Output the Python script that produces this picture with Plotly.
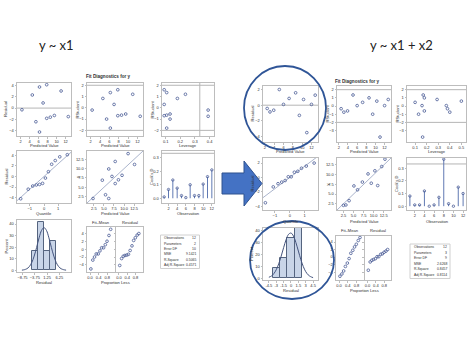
import plotly.graph_objects as go

W, H = 474, 355

# ---------------- model 1 : y ~ x1 ----------------
obs = [1, 2, 3, 4, 5, 6, 7, 8, 9, 10, 11, 12]
m1_pred = [2.3, 4.6, 5.4, 6.2, 6.2, 7.0, 7.8, 7.8, 8.6, 9.5, 11.0, 12.6]
m1_resid = [-0.3, 2.3, -2.4, 3.7, -4.2, 0.9, 4.1, -1.8, -1.6, -1.3, 3.0, -1.5]
m1_rstudent = [-0.2, 0.83, -1.0, 1.35, -1.8, 0.3, 1.6, -0.7, -0.65, -0.55, 1.2, -0.75]
m1_leverage = [0.39, 0.18, 0.13, 0.107, 0.107, 0.09, 0.09, 0.09, 0.107, 0.13, 0.235, 0.39]
m1_y = [2.0, 6.9, 3.0, 9.9, 2.0, 7.9, 11.9, 6.0, 7.0, 8.2, 14.0, 11.1]
m1_cooksd = [0.01, 0.065, 0.135, 0.075, 0.02, 0.005, 0.1, 0.02, 0.02, 0.105, 0.16, 0.21]
m1_quantile = [-1.64, -1.11, -0.79, -0.54, -0.31, -0.10, 0.10, 0.31, 0.54, 0.79, 1.11, 1.64]
m1_resid_sorted = [-4.2, -2.4, -1.8, -1.6, -1.5, -1.3, -0.3, 0.9, 2.3, 3.0, 3.7, 4.1]
m1_fitmean_sorted = [-5.1, -2.8, -2.0, -1.2, -1.2, -0.4, 0.4, 0.4, 1.2, 2.1, 3.6, 5.2]
m1_qq_sd = 2.4
m1_hist_mid = [-3.75, -1.25, 1.25, 3.75]
m1_hist_pct = [16.7, 41.7, 16.7, 25.0]
m1_hist_width = 2.5
m1_curve_x = [-9, -8, -7, -6, -5, -4, -3, -2, -1, 0, 1, 2, 3, 4, 5, 6, 7, 8, 9]
m1_curve_pct = [0.1, 0.5, 1.3, 3.1, 6.6, 12.3, 19.8, 28.1, 34.5, 36.9, 34.5, 28.1, 19.8,
                12.3, 6.6, 3.1, 1.3, 0.5, 0.1]
m1_stat_values = ["12", "2", "10", "9.1421", "0.5065", "0.4571"]

# ---------------- model 2 : y ~ x1 + x2 ----------------
m2_pred = [2.5, 3.1, 3.9, 5.1, 6.0, 7.2, 8.6, 9.4, 10.3, 11.0, 12.0, 12.8]
m2_resid = [-0.42, -0.86, -0.64, 2.0, 0.1, 0.86, 1.58, -1.3, 0.73, -3.5, 0.1, 1.28]
m2_rstudent = [-0.33, -0.75, -0.6, 1.35, 0.05, 0.45, 1.0, -1.0, 0.6, -3.8, 0.05, 0.8]
m2_leverage = [0.38, 0.40, 0.18, 0.17, 0.16, 0.10, 0.18, 0.13, 0.50, 0.165, 0.37, 0.29]
m2_y = [2.1, 2.2, 3.3, 7.1, 6.1, 8.1, 10.2, 7.8, 11.0, 7.2, 12.1, 14.0]
m2_cooksd = [0.08, 0.01, 0.01, 0.12, 0.0, 0.01, 0.07, 0.37, 0.02, 0.0, 0.15, 0.10]
m2_quantile = [-1.64, -1.11, -0.79, -0.54, -0.31, -0.10, 0.10, 0.31, 0.54, 0.79, 1.11, 1.64]
m2_resid_sorted = [-3.5, -1.3, -0.86, -0.64, -0.42, 0.1, 0.1, 0.73, 0.86, 1.28, 1.58, 2.0]
m2_fitmean_sorted = [-5.1, -4.5, -3.7, -2.5, -1.6, -0.4, 1.0, 1.8, 2.7, 3.4, 4.4, 5.2]
m2_qq_sd = 1.55
m2_hist_mid = [-3.0, -1.5, 0.0, 1.5]
m2_hist_pct = [8.3, 16.7, 33.3, 41.7]
m2_hist_width = 1.5
m2_curve_x = [-4.5, -4, -3.5, -3, -2.5, -2, -1.5, -1, -0.5, 0, 0.5, 1, 1.5, 2, 2.5, 3, 3.5, 4, 4.5]
m2_curve_pct = [0.8, 1.8, 3.8, 7.1, 12.0, 18.4, 25.6, 32.2, 36.7, 37.8, 35.3, 29.8, 22.7,
                15.7, 9.8, 5.5, 2.8, 1.3, 0.5]
m2_stat_values = ["12", "3", "9", "2.6268", "0.8457", "0.8114"]

prop_less = [0.04, 0.13, 0.21, 0.29, 0.38, 0.46, 0.54, 0.63, 0.71, 0.79, 0.88, 0.96]
stat_labels = ["Observations", "Parameters", "Error DF", "MSE", "R-Square", "Adj R-Square"]

# ---------------- styling ----------------
FONT = "Liberation Sans, Arial, sans-serif"
FRAME = "#bdbdbd"
REF = "#b5b5b5"
MARK = "#4a5c96"
TXT = "#303030"
TICKF = dict(family=FONT, size=4.0, color=TXT)

fig = go.Figure()
shapes = []
annotations = []
counter = [0]


def px_x(p):
    return p / W


def px_y(p):
    return 1 - p / H


def panel(fx0, fx1, fy0, fy1, xr, yr, xt, yt, xfmt="", yfmt="", xtext=None, ytext=None,
          showx=True, showy=True):
    counter[0] += 1
    i = counter[0]
    s = "" if i == 1 else str(i)
    common = dict(showgrid=False, zeroline=False, showline=True, mirror=True, linecolor=FRAME,
                  linewidth=1, ticks="outside", ticklen=1.5, tickcolor=FRAME, tickfont=TICKF,
                  fixedrange=True, tickwidth=1, tickangle=0)
    xa = dict(common, domain=[px_x(fx0), px_x(fx1)], anchor="y" + s, range=xr, tickvals=xt,
              tickformat=xfmt, showticklabels=showx)
    ya = dict(common, domain=[px_y(fy1), px_y(fy0)], anchor="x" + s, range=yr, tickvals=yt,
              tickformat=yfmt, showticklabels=showy)
    if xtext is not None:
        xa["ticktext"] = xtext
    if ytext is not None:
        ya["ticktext"] = ytext
    fig.update_layout(**{"xaxis" + s: xa, "yaxis" + s: ya})
    return "x" + s, "y" + s


def pts(xa, ya, x, y, size=2.7):
    fig.add_trace(go.Scatter(x=x, y=y, mode="markers", xaxis=xa, yaxis=ya, showlegend=False,
                             marker=dict(symbol="circle-open", size=size, color=MARK,
                                         line=dict(width=0.8, color=MARK)),
                             hoverinfo="skip"))


def line(xa, ya, x, y, color=REF, width=1):
    fig.add_trace(go.Scatter(x=x, y=y, mode="lines", xaxis=xa, yaxis=ya, showlegend=False,
                             line=dict(color=color, width=width), hoverinfo="skip"))


def hline(xa, ya, v):
    shapes.append(dict(type="line", xref=xa + " domain", yref=ya, x0=0, x1=1, y0=v, y1=v,
                       line=dict(color=REF, width=1), layer="below"))


def vline(xa, ya, v):
    shapes.append(dict(type="line", xref=xa, yref=ya + " domain", x0=v, x1=v, y0=0, y1=1,
                       line=dict(color=REF, width=1), layer="below"))


def text(x, y, t, size=4.1, angle=0, bold=False, anchor="center", color=TXT, family=FONT):
    annotations.append(dict(x=px_x(x), y=px_y(y), xref="paper", yref="paper", text=t,
                            showarrow=False, textangle=angle, xanchor=anchor, yanchor="middle",
                            font=dict(family=family, size=size, color=color)))


def cook(xa, ya, vals):
    fig.add_trace(go.Scatter(x=obs, y=vals, mode="markers", xaxis=xa, yaxis=ya, showlegend=False,
                             marker=dict(symbol="circle-open", size=2.4, color=MARK,
                                         line=dict(width=0.8, color=MARK)),
                             error_y=dict(type="data", symmetric=False, array=[0] * len(vals),
                                          arrayminus=vals, width=0, thickness=1,
                                          color="#6079b3"),
                             hoverinfo="skip"))


def hist(xa, ya, mids, pct, bw, cx, cy):
    fig.add_trace(go.Bar(x=mids, y=pct, width=bw, xaxis=xa, yaxis=ya, showlegend=False,
                         marker=dict(color="#c9d5e8", line=dict(color="#55647f", width=1)),
                         hoverinfo="skip"))
    fig.add_trace(go.Scatter(x=cx, y=cy, mode="lines", xaxis=xa, yaxis=ya, showlegend=False,
                             line=dict(color="#44547e", width=1, shape="spline"),
                             hoverinfo="skip"))


def stats_box(x0, x1, y0, y1, row_y, values):
    shapes.append(dict(type="rect", xref="paper", yref="paper", x0=px_x(x0), x1=px_x(x1),
                       y0=px_y(y0), y1=px_y(y1), line=dict(color="#d0d0d0", width=1)))
    for lab, val, ry in zip(stat_labels, values, row_y):
        text(x0 + 1.5, ry, lab, size=3.4, anchor="left")
        text(x1 - 1.5, ry, val, size=3.4, anchor="right")


# =============== LEFT GROUP (y ~ x1) ===============
text(56, 45, "y ~ x1", size=13, family="Lato, Open Sans, sans-serif", color="#222")
text(108, 77, "<b>Fit Diagnostics for y</b>", size=4.6)

pv_ticks = [2, 4, 6, 8, 10, 12]
# row 1
a = panel(17, 71, 83, 136, [1.2, 13.2], [-4.9, 4.4], pv_ticks, [-4, -2, 0, 2, 4])
hline(*a, 0)
pts(*a, m1_pred, m1_resid)
text(5.5, 109.5, "Residual", angle=-90)
text(44, 145.5, "Predicted Value")

a = panel(87, 143, 83, 136, [1.2, 13.2], [-2.5, 2.2], pv_ticks, [-2, -1, 0, 1, 2])
hline(*a, 2); hline(*a, -2)
pts(*a, m1_pred, m1_rstudent)
text(77, 109.5, "RStudent", angle=-90)
text(115, 145.5, "Predicted Value")

a = panel(162, 214, 83, 136, [0.075, 0.43], [-2.5, 2.2], [0.1, 0.2, 0.3, 0.4], [-2, -1, 0, 1, 2],
          xfmt=".1f")
hline(*a, 2); hline(*a, -2); vline(*a, 0.333)
pts(*a, m1_leverage, m1_rstudent)
text(152, 109.5, "RStudent", angle=-90)
text(188, 145.5, "Leverage")

# row 2
a = panel(17, 71, 151, 203, [-1.9, 1.9], [-5.0, 4.8], [-1, 0, 1], [-4, -2, 0, 2, 4])
line(*a, [-1.9, 1.9], [-1.9 * m1_qq_sd, 1.9 * m1_qq_sd], color="#aab4cc")
pts(*a, m1_quantile, m1_resid_sorted)
text(5.5, 177, "Residual", angle=-90)
text(44, 213.5, "Quantile")

yv_ticks = [2.5, 5.0, 7.5, 10.0, 12.5]
a = panel(87, 143, 151, 203, [0.8, 14.7], [0.8, 14.7], yv_ticks, yv_ticks, xfmt=".1f", yfmt=".1f")
line(*a, [0.8, 14.7], [0.8, 14.7], color="#aab4cc")
pts(*a, m1_pred, m1_y)
text(77, 177, "y", angle=-90)
text(115, 213.5, "Predicted Value")

a = panel(162, 214, 151, 203, [0.5, 12.5], [-0.035, 0.35], pv_ticks, [0.0, 0.1, 0.2, 0.3], yfmt=".1f")
hline(*a, 0.333)
cook(*a, m1_cooksd)
text(151, 177, "Cook's D", angle=-90)
text(188, 213.5, "Observation")

# row 3
a = panel(17, 71, 220, 272, [-11, 11], [-1.5, 43.5], [-8.75, -3.75, 1.25, 6.25], [0, 10, 20, 30, 40],
          xfmt=".2f")
hist(*a, m1_hist_mid, m1_hist_pct, m1_hist_width, m1_curve_x, m1_curve_pct)
text(5.5, 246, "Percent", angle=-90)
text(44, 282.5, "Residual")

a = panel(87, 115, 227, 272, [-0.14, 1.16], [-5.9, 5.8], [0.0, 0.4, 0.8], [-4, -2, 0, 2, 4], xfmt=".1f")
pts(*a, prop_less, m1_fitmean_sorted)
a = panel(116, 143, 227, 272, [-0.14, 1.16], [-5.9, 5.8], [0.0, 0.4, 0.8], [-4, -2, 0, 2, 4],
          xfmt=".1f", showy=False)
pts(*a, prop_less, m1_resid_sorted)
text(101, 222.5, "Fit–Mean")
text(129.5, 222.5, "Residual")
text(115, 282.5, "Proportion Less")

stats_box(160.5, 199.5, 235, 268.5, [238.3, 243.7, 249.0, 254.3, 259.8, 265.2], m1_stat_values)

# =============== RIGHT GROUP (y ~ x1 + x2) ===============
text(401.5, 45, "y ~ x1 + x2", size=13, family="Lato, Open Sans, sans-serif", color="#222")
text(357, 81.5, "<b>Fit Diagnostics for y</b>", size=4.6)

a = panel(263, 318, 86, 142, [1.6, 13.4], [-4.7, 2.45], pv_ticks, [-4, -2, 0, 2])
hline(*a, 0)
pts(*a, m2_pred, m2_resid)
text(251.5, 114, "Residual", angle=-90)
text(290.5, 151.5, "Predicted Value")

a = panel(337, 391, 86, 142, [1.6, 13.4], [-4.4, 2.45], pv_ticks, [-3, -2, -1, 0, 1, 2])
hline(*a, 2); hline(*a, -2)
pts(*a, m2_pred, m2_rstudent)
text(326.5, 114, "RStudent", angle=-90)
text(364, 151.5, "Predicted Value")

a = panel(407, 466, 86, 142, [0.03, 0.54], [-4.4, 2.45], [0.1, 0.2, 0.3, 0.4, 0.5],
          [-3, -2, -1, 0, 1, 2], xfmt=".1f")
hline(*a, 2); hline(*a, -2)
pts(*a, m2_leverage, m2_rstudent)
text(396.5, 114, "RStudent", angle=-90)
text(436.5, 151.5, "Leverage")

# row 2
a = panel(263, 318, 158, 210, [-1.8, 1.9], [-4.5, 2.7], [-1, 0, 1], [-4, -2, 0, 2])
line(*a, [-1.8, 1.9], [-1.8 * m2_qq_sd, 1.9 * m2_qq_sd], color="#aab4cc")
pts(*a, m2_quantile, m2_resid_sorted)
text(251.5, 184, "Residual", angle=-90)
text(290.5, 221.5, "Quantile")

a = panel(337, 391, 158, 210, [0.9, 14.3], [0.9, 14.3], yv_ticks, yv_ticks, xfmt=".1f", yfmt=".1f")
line(*a, [0.9, 14.3], [0.9, 14.3], color="#aab4cc")
pts(*a, m2_pred, m2_y)
text(326.5, 184, "y", angle=-90)
text(364, 221.5, "Predicted Value")

a = panel(407, 466, 158, 210, [0.4, 12.6], [-0.03, 0.38], pv_ticks, [0.0, 0.1, 0.2, 0.3], yfmt=".1f")
hline(*a, 0.333)
cook(*a, m2_cooksd)
text(396, 184, "Cook's D", angle=-90)
text(437, 221.5, "Observation")

# row 3
a = panel(263, 318, 228, 280, [-5.7, 5.5], [-1.5, 42], [-4.5, -3, -1.5, 0, 1.5, 3, 4.5],
          [0, 10, 20, 30, 40], xtext=["-4.5", "-3", "-1.5", "0", "1.5", "3", "4.5"])
hist(*a, m2_hist_mid, m2_hist_pct, m2_hist_width, m2_curve_x, m2_curve_pct)
text(251, 254, "Percent", angle=-90)
text(290.5, 290.5, "Residual")

a = panel(336, 363.5, 236, 280, [-0.14, 1.12], [-6.1, 5.6], [0.0, 0.4, 0.8], [-4, -2, 0, 2, 4],
          xfmt=".1f")
pts(*a, prop_less, m2_fitmean_sorted)
a = panel(364.5, 391, 236, 280, [-0.14, 1.12], [-6.1, 5.6], [0.0, 0.4, 0.8], [-4, -2, 0, 2, 4],
          xfmt=".1f", showy=False)
pts(*a, prop_less, m2_resid_sorted)
text(350, 230.5, "Fit–Mean")
text(377.5, 230.5, "Residual")
text(364, 290.5, "Proportion Less")

stats_box(410, 450, 244, 278.5, [247.3, 252.8, 258.3, 263.8, 269.3, 274.8], m2_stat_values)

# =============== decorations ===============
CIRC = "#2f5597"
shapes.append(dict(type="circle", xref="paper", yref="paper", x0=px_x(244), x1=px_x(326),
                   y0=px_y(150), y1=px_y(66), line=dict(color=CIRC, width=1.8)))
shapes.append(dict(type="circle", xref="paper", yref="paper", x0=px_x(250), x1=px_x(334),
                   y0=px_y(299), y1=px_y(221), line=dict(color=CIRC, width=1.8)))
arrow_px = [(222, 173), (244, 173), (244, 161), (262, 183.5), (244, 206), (244, 194), (222, 194)]
path = "M " + " L ".join(f"{px_x(x):.4f},{px_y(y):.4f}" for x, y in arrow_px) + " Z"
shapes.append(dict(type="path", xref="paper", yref="paper", path=path,
                   fillcolor="#4472c4", line=dict(color="#2f528f", width=1)))

fig.update_layout(width=W, height=H, margin=dict(l=0, r=0, t=0, b=0),
                  paper_bgcolor="white", plot_bgcolor="white", showlegend=False,
                  shapes=shapes, annotations=annotations, bargap=0)

fig.write_html("out.html")
